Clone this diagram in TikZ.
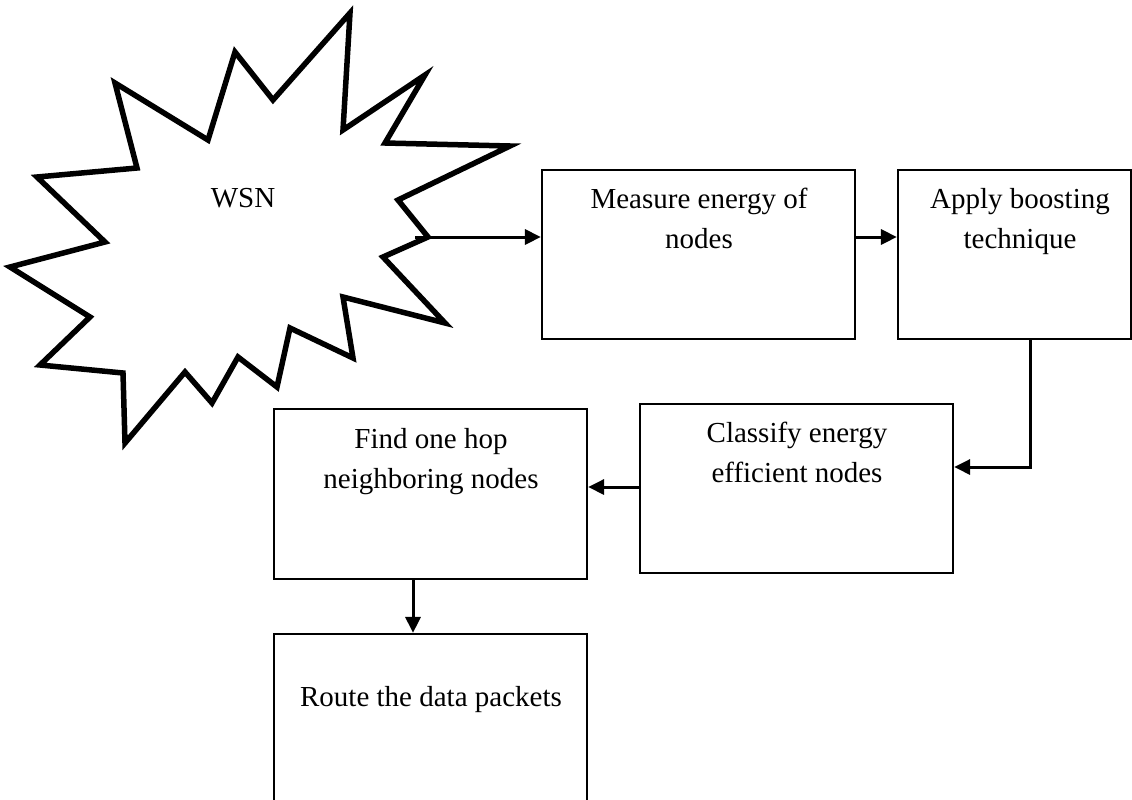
\documentclass[tikz,border=0pt]{standalone}
\usepackage{fontspec}
\setmainfont{Liberation Serif}
\usetikzlibrary{arrows.meta}
\tikzset{
  flowbox/.style={draw=black, line width=2.2pt, rectangle, inner sep=0pt, fill=white},
  boxtext/.style={align=center, inner sep=0pt, font=\fontsize{29}{40}\selectfont, anchor=base},
  arr/.style={draw=black, line width=3pt, -{Triangle[length=16pt,width=15pt]}},
  burst/.style={draw=black, line width=5.5pt, line join=miter, miter limit=20, fill=white}
}
\begin{document}
\begin{tikzpicture}[x=1pt,y=-1pt]
\useasboundingbox (0,0) rectangle (1132,800);
% starburst
\draw[burst] (350,13) -- (343,130) -- (425,75) -- (385,143) -- (510,146) -- (398,200) -- (428,237) -- (383,257) -- (445,323) -- (343,297) -- (353,358) -- (290,328) -- (277,387) -- (238,357) -- (212,403) -- (185,372) -- (125,443) -- (123,373) -- (40,365) -- (90,317) -- (10,267) -- (105,242) -- (37,177) -- (137,168) -- (115,83) -- (208,140) -- (235,52) -- (273,100) -- cycle;
\node[boxtext] (wsn) at (243,207) {WSN};
% boxes
\node[flowbox, minimum width=313pt, minimum height=169pt] (measure) at (698.5,254.5) {};
\node[flowbox, minimum width=233pt, minimum height=169pt] (apply) at (1014.5,254.5) {};
\node[flowbox, minimum width=313pt, minimum height=169pt] (classify) at (796.5,488.5) {};
\node[flowbox, minimum width=313pt, minimum height=170pt] (find) at (430.5,494) {};
\node[flowbox, minimum width=313pt, minimum height=190pt] (route) at (430.5,729) {};
% texts (base anchor = last line's baseline)
\node[boxtext] (measuret) at (699,248) {Measure energy of\\nodes};
\node[boxtext] (applyt) at (1020,248) {Apply boosting\\technique};
\node[boxtext] (classifyt) at (797,482) {Classify energy\\efficient nodes};
\node[boxtext] (findt) at (431,488) {Find one hop\\neighboring nodes};
\node[boxtext] (routet) at (431,706) {Route the data packets};
% connectors
\coordinate (wsnout) at (415,237);
\coordinate (turn) at (1030,467);
\coordinate (c2f) at (640,487);
\coordinate (f2r) at (413,600);
\draw[arr] (wsnout) -- (wsnout -| measure.west);
\draw[arr] (wsnout -| measure.east) -- (wsnout -| apply.west);
\draw[arr] (turn |- apply.south) -- (turn) -- (turn -| classify.east);
\draw[arr] (c2f -| classify.west) -- (c2f -| find.east);
\draw[arr] (f2r |- find.south) -- (f2r |- route.north);
\end{tikzpicture}
\end{document}
